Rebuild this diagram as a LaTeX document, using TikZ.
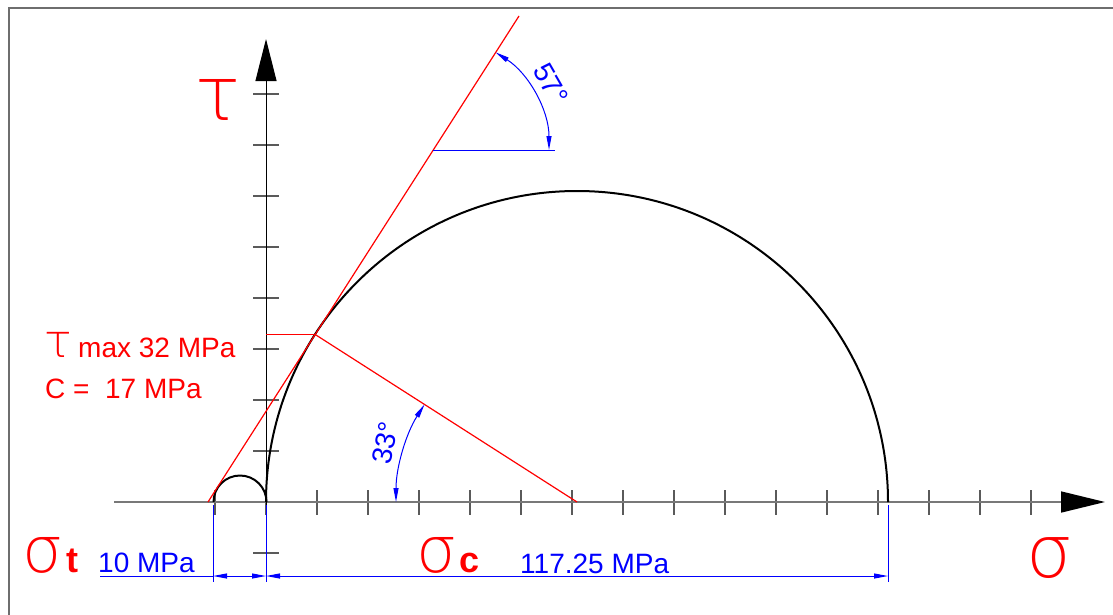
\documentclass[tikz,border=0pt]{standalone}
\usepackage{fontspec}
\setmainfont{Liberation Sans}
\newfontfamily\greek{DejaVu Sans ExtraLight}
\usetikzlibrary{arrows.meta}
\definecolor{framegray}{RGB}{110,110,110}
\definecolor{axgray}{RGB}{120,120,120}
\definecolor{tickgray}{RGB}{90,90,90}
\tikzset{
  frame/.style={draw=framegray, line width=2pt},
  axline/.style={draw=axgray, line width=1.6pt},
  tickline/.style={draw=tickgray, line width=1.1pt},
  curve/.style={draw=black, line width=2pt},
  redline/.style={draw=red, line width=1.2pt},
  blueline/.style={draw=blue, line width=1pt},
  dimtip/.tip={Triangle[length=14pt,width=5pt]},
  lbl/.style={inner sep=0pt, font=\fontsize{28}{28}\selectfont},
  boldlbl/.style={inner sep=0pt, font=\bfseries\fontsize{36}{36}\selectfont},
  gk/.style={inner sep=0pt, red},
}
\begin{document}
\begin{tikzpicture}[x=1pt,y=-1pt]
\useasboundingbox (0,0) rectangle (1113,614);
\clip (0,0) rectangle (1113,614);
\fill[white] (0,0) rectangle (1113,614);
% frame
\coordinate (fb) at (9,640);
\coordinate (fc) at (9,8);
\coordinate (fr) at (1140,8);
\draw[frame] (fb) -- (fc) -- (fr);

% key points
\coordinate (xs) at (114,502);
\coordinate (xe) at (1105,502);
\coordinate (ys) at (266,560);
\coordinate (ye) at (266,39);
\coordinate (O) at (266,502);
\coordinate (Cb) at (577,502);
\coordinate (Lb) at (266,502);
\coordinate (Rb) at (888,502);
\coordinate (Ls) at (213.5,502);
\coordinate (ta) at (208,502);
\coordinate (tb) at (519,16);
\coordinate (T) at (315.2,334.5);
\coordinate (tq) at (266,334.5);

% ticks
\foreach \k in {0,...,16}
  \draw[tickline] ({215+51*\k},490) -- ({215+51*\k},515);
\foreach \k in {0,...,9}
  \draw[tickline] (253,{553-51*\k}) -- (279,{553-51*\k});

% axes
\draw[axline,-{Triangle[length=44pt,width=21pt,color=black]}] (xs) -- (xe);
\draw[black, line width=1pt,-{Triangle[length=42pt,width=21pt]}] (ys) -- (ye);

% Mohr circles
\draw[curve] (Ls) arc[start angle=180, end angle=0, radius=26.5pt];
\draw[curve] (Lb) arc[start angle=180, end angle=0, radius=311pt];

% red construction
\draw[redline] (ta) -- (tb);
\draw[redline] (Cb) -- (T);
\draw[redline] (tq) -- (T);

% angle 33
\coordinate (a33s) at (396,502);
\draw[blueline,{dimtip}-{dimtip}] (a33s) arc[start angle=180, end angle=147.4, radius=181pt];
\node[lbl, blue, rotate=78] (a33) at (385,443) {33°};

% angle 57
\coordinate (h57a) at (433,150);
\coordinate (h57b) at (555,150);
\coordinate (a57s) at (549,150);
\draw[blueline] (h57a) -- (h57b);
\draw[blueline,{dimtip}-{dimtip}] (a57s) arc[start angle=0, end angle=57.4, radius=116pt];
\node[lbl, blue, rotate=-60] (a57) at (551,84) {57°};

% dimensions
\coordinate (e1a) at (213,505); \coordinate (e1b) at (213,582);
\coordinate (e2a) at (266,505); \coordinate (e2b) at (266,582);
\coordinate (e3a) at (888,505); \coordinate (e3b) at (888,582);
\draw[blueline] (e1a) -- (e1b);
\draw[blueline] (e2a) -- (e2b);
\draw[blueline] (e3a) -- (e3b);
\coordinate (d0) at (100,576);
\coordinate (d1) at (213,576);
\coordinate (d2) at (266,576);
\coordinate (d3) at (888,576);
\draw[blueline] (d0) -- (d1);
\draw[blueline,{dimtip}-{dimtip}] (d1) -- (d2);
\draw[blueline,{dimtip}-{dimtip}] (d2) -- (d3);
\node[lbl, blue, anchor=base west] (d10) at (98,572) {10 MPa};
\node[lbl, blue, anchor=base west] (d117) at (520,573) {117.25 MPa};

% red labels
\node[gk, font=\greek\fontsize{75}{75}\selectfont] (tau) at (218,100) {τ};
\node[gk, font=\greek\fontsize{46}{46}\selectfont] (taum) at (58.5,345) {τ};
\node[lbl, red, anchor=base west] (tmax) at (78,357) {max 32 MPa};
\node[lbl, red, anchor=base west] (cc) at (45,398) {C =\ \ 17 MPa};
\node[gk, font=\greek\fontsize{73}{73}\selectfont] (sig) at (1049.5,558) {σ};
\node[gk, font=\greek\fontsize{64}{64}\selectfont] (sigt) at (43,555.5) {σ};
\node[boldlbl, red, anchor=base west] (tt) at (66,572) {t};
\node[gk, font=\greek\fontsize{64}{64}\selectfont] (sigc) at (437,555) {σ};
\node[boldlbl, red, anchor=base west] (tc) at (459,572) {c};
\end{tikzpicture}
\end{document}
